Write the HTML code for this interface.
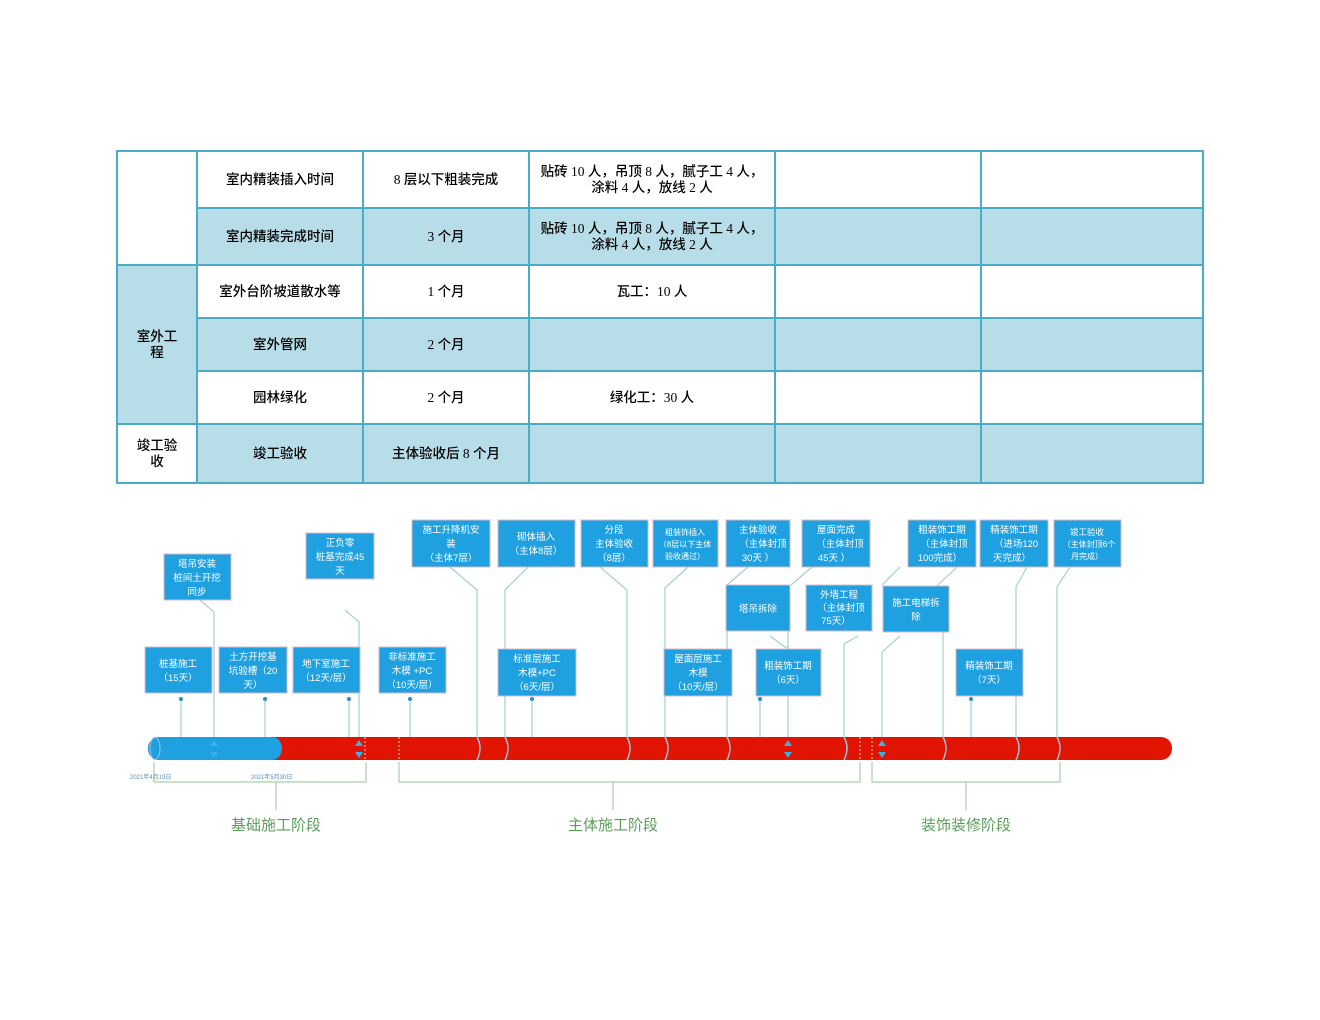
<!DOCTYPE html>
<html><head><meta charset="utf-8"><style>
body{margin:0;background:#fff;width:1320px;height:1020px;overflow:hidden;font-family:"Liberation Serif","Noto Sans CJK SC",serif;}
table{position:absolute;left:116px;top:150px;border-collapse:collapse;}
td{border:2px solid #4bacc6;text-align:center;font-size:13.5px;color:#000;padding:0 8px;line-height:16px;font-weight:500;}
.b{background:#b7dde8;}
</style></head><body>
<table>
<colgroup><col style="width:80px"><col style="width:166px"><col style="width:166px"><col style="width:246px"><col style="width:206px"><col style="width:222px"></colgroup>
<tr style="height:57px"><td rowspan="2"></td><td>室内精装插入时间</td><td>8 层以下粗装完成</td><td>贴砖 10 人，吊顶 8 人，腻子工 4 人，涂料 4 人，放线 2 人</td><td></td><td></td></tr>
<tr style="height:57px" class="b"><td>室内精装完成时间</td><td>3 个月</td><td>贴砖 10 人，吊顶 8 人，腻子工 4 人，涂料 4 人，放线 2 人</td><td></td><td></td></tr>
<tr style="height:53px"><td rowspan="3" class="b">室外工<br>程</td><td>室外台阶坡道散水等</td><td>1 个月</td><td>瓦工：10 人</td><td></td><td></td></tr>
<tr style="height:53px" class="b"><td>室外管网</td><td>2 个月</td><td></td><td></td><td></td></tr>
<tr style="height:53px"><td>园林绿化</td><td>2 个月</td><td>绿化工：30 人</td><td></td><td></td></tr>
<tr style="height:59px" class="b"><td style="background:#fff">竣工验<br>收</td><td>竣工验收</td><td>主体验收后 8 个月</td><td></td><td></td><td></td></tr>
</table>
<svg width="1320" height="1020" style="position:absolute;left:0;top:0" font-family="Liberation Sans,Noto Sans CJK SC,sans-serif">
<g stroke="#a8ccd8" stroke-width="1.2" fill="none">
<polyline points="200,600 214,612 214,740"/>
<polyline points="345,610 359,622 359,740"/>
<polyline points="450,567 477,590 477,740"/>
<polyline points="528,567 505,590 505,740"/>
<polyline points="600,567 627,590 627,740"/>
<polyline points="688,567 665,588 665,740"/>
<polyline points="748,567 727,585"/><line x1="727" y1="631" x2="727" y2="740"/>
<polyline points="812,567 791,585"/><polyline points="770,636 785,647 788,647 788,740"/>
<line x1="788" y1="631" x2="788" y2="650"/>
<polyline points="858,636 844,644 844,740"/>
<polyline points="900,567 882,585"/><polyline points="900,636 882,652 882,740"/>
<polyline points="957,567 937,586"/><line x1="943" y1="632" x2="943" y2="740"/>
<polyline points="1027,567 1016,587 1016,740"/>
<polyline points="1070,567 1057,587 1057,740"/>
<line x1="181" y1="699" x2="181" y2="740"/><line x1="265" y1="699" x2="265" y2="740"/>
<line x1="349" y1="699" x2="349" y2="740"/><line x1="410" y1="699" x2="410" y2="740"/>
<line x1="532" y1="699" x2="532" y2="740"/><line x1="760" y1="699" x2="760" y2="740"/>
<line x1="971" y1="699" x2="971" y2="740"/>
</g>
<g fill="#2a8fc8"><circle cx="181" cy="699" r="2"/><circle cx="265" cy="699" r="2"/><circle cx="349" cy="699" r="2"/><circle cx="410" cy="699" r="2"/><circle cx="532" cy="699" r="2"/><circle cx="760" cy="699" r="2"/><circle cx="971" cy="699" r="2"/></g>
<rect x="148" y="737" width="1024" height="23" rx="11" fill="#e01400"/>
<path d="M159,737 H272 A10,11.5 0 0 1 272,760 H159 A11,11.5 0 0 1 159,737Z" fill="#1fa0e0"/>
<ellipse cx="155" cy="748.5" rx="5" ry="11" fill="none" stroke="#8cc8e8"/>
<g stroke="#8cc8e8" fill="none" stroke-width="1.5">
<path d="M477,737 q6,11 0,23M505,737 q6,11 0,23M627,737 q6,11 0,23M665,737 q6,11 0,23M727,737 q6,11 0,23M844,737 q6,11 0,23M943,737 q6,11 0,23M1016,737 q6,11 0,23M1057,737 q6,11 0,23"/>
</g>
<g fill="#3ab0e8"><path d="M210,746 l4,-6 l4,6z M210,752 l4,6 l4,-6z"/><path d="M355,746 l4,-6 l4,6z M355,752 l4,6 l4,-6z"/><path d="M784,746 l4,-6 l4,6z M784,752 l4,6 l4,-6z"/><path d="M878,746 l4,-6 l4,6z M878,752 l4,6 l4,-6z"/></g>
<g stroke="#fff" stroke-dasharray="2,2" stroke-width="0.8"><line x1="365" y1="737" x2="365" y2="760"/><line x1="399" y1="737" x2="399" y2="760"/><line x1="860" y1="737" x2="860" y2="760"/><line x1="872" y1="737" x2="872" y2="760"/></g>
<g stroke="#a9cfa9" fill="none" stroke-width="1.2">
<polyline points="154,762 154,782 366,782 366,762"/><line x1="276" y1="782" x2="276" y2="810"/>
<polyline points="399,762 399,782 860,782 860,762"/><line x1="613" y1="782" x2="613" y2="810"/>
<polyline points="872,762 872,782 1060,782 1060,762"/><line x1="966" y1="782" x2="966" y2="810"/>
</g>
<g font-size="6" fill="#5a8fb8"><text x="130" y="779">2021年4月19日</text><text x="251" y="779">2021年5月30日</text></g>
<g font-size="15" fill="#5a9e5a" text-anchor="middle"><text x="276" y="830">基础施工阶段</text><text x="613" y="830">主体施工阶段</text><text x="966" y="830">装饰装修阶段</text></g>
<g fill="#1fa0e0" stroke="#d8b8c8" stroke-width="1">
<rect x="164" y="554" width="67" height="46"/><rect x="306" y="533" width="68" height="46"/>
<rect x="412" y="520" width="78" height="47"/><rect x="498" y="520" width="77" height="47"/>
<rect x="581" y="520" width="67" height="47"/><rect x="653" y="520" width="65" height="47"/>
<rect x="726" y="520" width="64" height="47"/><rect x="802" y="520" width="68" height="47"/>
<rect x="908" y="520" width="68" height="47"/><rect x="980" y="520" width="68" height="47"/>
<rect x="1054" y="520" width="67" height="47"/>
<rect x="145" y="647" width="67" height="46"/><rect x="219" y="647" width="68" height="46"/>
<rect x="293" y="647" width="67" height="46"/><rect x="379" y="647" width="67" height="46"/>
<rect x="498" y="649" width="78" height="47"/><rect x="726" y="585" width="64" height="46"/>
<rect x="806" y="585" width="66" height="46"/><rect x="883" y="586" width="66" height="46"/>
<rect x="664" y="649" width="68" height="47"/><rect x="756" y="649" width="65" height="47"/>
<rect x="956" y="649" width="67" height="47"/>
</g>
<g fill="#fff" font-size="9.5" text-anchor="middle">
<text x="197" y="567">塔吊安装</text><text x="197" y="581">桩间土开挖</text><text x="197" y="595">同步</text>
<text x="340" y="546">正负零</text><text x="340" y="560">桩基完成45</text><text x="340" y="574">天</text>
<text x="451" y="533">施工升降机安</text><text x="451" y="547">装</text><text x="451" y="561">（主体7层）</text>
<text x="536" y="540">砌体插入</text><text x="536" y="554">（主体8层）</text>
<text x="614" y="533">分段</text><text x="614" y="547">主体验收</text><text x="614" y="561">（8层）</text>
<text x="685" y="535" font-size="8">粗装饰插入</text><text x="685" y="547" font-size="8">（8层以下主体</text><text x="685" y="559" font-size="8">验收通过）</text>
<text x="758" y="533">主体验收</text><text x="763" y="547">（主体封顶</text><text x="758" y="561">30天 ）</text>
<text x="836" y="533">屋面完成</text><text x="840" y="547">（主体封顶</text><text x="834" y="561">45天 ）</text>
<text x="942" y="533">粗装饰工期</text><text x="944" y="547">（主体封顶</text><text x="940" y="561">100完成）</text>
<text x="1014" y="533">精装饰工期</text><text x="1016" y="547">（进场120</text><text x="1012" y="561">天完成）</text>
<text x="1087" y="535" font-size="8.5">竣工验收</text><text x="1089" y="547" font-size="8">（主体封顶6个</text><text x="1087" y="559" font-size="8">月完成）</text>
<text x="178" y="667">桩基施工</text><text x="178" y="681">（15天）</text>
<text x="253" y="660">土方开挖基</text><text x="253" y="674">坑验槽（20</text><text x="253" y="688">天）</text>
<text x="326" y="667">地下室施工</text><text x="326" y="681">（12天/层）</text>
<text x="412" y="660">非标准施工</text><text x="412" y="674">木模 +PC</text><text x="412" y="688">（10天/层）</text>
<text x="537" y="662">标准层施工</text><text x="537" y="676">木模+PC</text><text x="537" y="690">（6天/层）</text>
<text x="758" y="612">塔吊拆除</text>
<text x="839" y="598">外墙工程</text><text x="841" y="611">（主体封顶</text><text x="836" y="624">75天）</text>
<text x="916" y="606">施工电梯拆</text><text x="916" y="620">除</text>
<text x="698" y="662">屋面层施工</text><text x="698" y="676">木模</text><text x="698" y="690">（10天/层）</text>
<text x="788" y="669">粗装饰工期</text><text x="788" y="683">（6天）</text>
<text x="989" y="669">精装饰工期</text><text x="989" y="683">（7天）</text>
</g>
</svg>
</body></html>
